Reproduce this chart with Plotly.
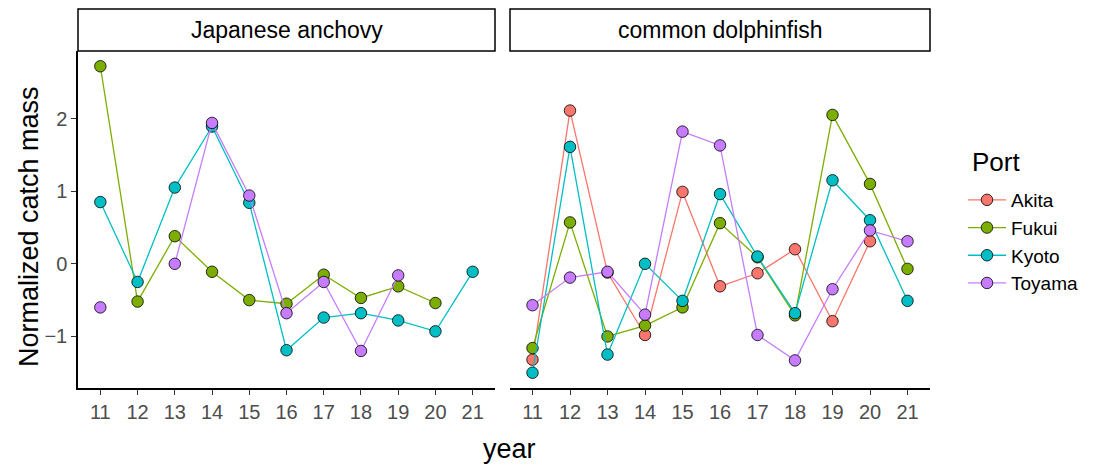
import plotly.graph_objects as go

W, H = 1096, 467

years = [11, 12, 13, 14, 15, 16, 17, 18, 19, 20, 21]
ports = ["Akita", "Fukui", "Kyoto", "Toyama"]
colors = {"Akita": "#F8766D", "Fukui": "#7CAE00", "Kyoto": "#00BFC4", "Toyama": "#C77CFF"}

# Japanese anchovy
anchovy_akita = [None] * 11
anchovy_fukui = [2.72, -0.52, 0.38, -0.11, -0.50, -0.55, -0.15, -0.47, -0.31, -0.54, None]
anchovy_kyoto = [0.85, -0.25, 1.05, 1.89, 0.84, -1.19, -0.74, -0.68, -0.78, -0.93, -0.11]
anchovy_toyama = [-0.60, None, 0.00, 1.94, 0.94, -0.68, -0.25, -1.20, -0.16, None, None]

# common dolphinfish
dolphin_akita = [-1.32, 2.11, -0.12, -0.98, 0.99, -0.31, -0.13, 0.20, -0.79, 0.31, None]
dolphin_fukui = [-1.16, 0.57, -1.00, -0.85, -0.60, 0.56, 0.09, -0.71, 2.05, 1.10, -0.07]
dolphin_kyoto = [-1.50, 1.61, -1.25, 0.00, -0.51, 0.96, 0.10, -0.68, 1.15, 0.60, -0.51]
dolphin_toyama = [-0.57, -0.19, -0.11, -0.70, 1.82, 1.63, -0.98, -1.33, -0.35, 0.46, 0.31]

panels = [
    ("Japanese anchovy", {"Akita": anchovy_akita, "Fukui": anchovy_fukui,
                          "Kyoto": anchovy_kyoto, "Toyama": anchovy_toyama}),
    ("common dolphinfish", {"Akita": dolphin_akita, "Fukui": dolphin_fukui,
                            "Kyoto": dolphin_kyoto, "Toyama": dolphin_toyama}),
]

FONT = "Liberation Sans, Arial, Helvetica, sans-serif"

fig = go.Figure()
for pi, (title, data) in enumerate(panels):
    xa = "x" if pi == 0 else "x2"
    ya = "y" if pi == 0 else "y2"
    for p in ports:
        vals = data[p]
        if all(v is None for v in vals):
            continue
        fig.add_trace(go.Scatter(
            x=years, y=vals, mode="lines+markers", name=p,
            xaxis=xa, yaxis=ya, legendgroup=p,
            showlegend=(pi == 1),
            connectgaps=False,
            line=dict(color=colors[p], width=1.3),
            marker=dict(color=colors[p], size=11.5, line=dict(color="black", width=0.8)),
        ))

def px_x(v):
    return v / W

def px_y(v):
    return 1 - v / H

top, bottom = 51, 388
left_dom = [px_x(78), px_x(495)]
right_dom = [px_x(510), px_x(930)]
ydom = [px_y(bottom), px_y(top)]
yrange = [-1.71, 2.93]
xrange = [10.4, 21.6]

axis_common = dict(range=xrange, tickvals=years, ticktext=[str(y) for y in years],
                   showgrid=False, zeroline=False, showline=True, linecolor="black",
                   linewidth=1.5, ticks="outside", ticklen=5, tickcolor="#333333",
                   tickwidth=1.2, tickfont=dict(size=20, color="#4D4D4D", family=FONT))

fig.update_layout(
    width=W, height=H,
    margin=dict(l=0, r=0, t=0, b=0),
    paper_bgcolor="white", plot_bgcolor="white",
    font=dict(family=FONT),
    xaxis=dict(domain=left_dom, anchor="y", **axis_common),
    xaxis2=dict(domain=right_dom, anchor="y2", **axis_common),
    yaxis=dict(domain=ydom, range=yrange, tickvals=[-1, 0, 1, 2], showgrid=False,
               zeroline=False, showline=True, linecolor="black", linewidth=1.5,
               ticks="outside", ticklen=5, tickcolor="#333333", tickwidth=1.2,
               tickfont=dict(size=20, color="#4D4D4D", family=FONT), anchor="x"),
    yaxis2=dict(domain=ydom, range=yrange, showgrid=False, zeroline=False,
                showline=False, showticklabels=False, ticks="", anchor="x2"),
    legend=dict(
        font=dict(size=19, color="black", family=FONT),
        x=px_x(963), y=px_y(181), xanchor="left", yanchor="top",
        bgcolor="rgba(0,0,0,0)", tracegroupgap=0, itemwidth=38,
    ),
)

shapes = []
annotations = []
for (title, _), dom in zip(panels, [left_dom, right_dom]):
    shapes.append(dict(type="rect", xref="paper", yref="paper",
                       x0=dom[0], x1=dom[1], y0=px_y(51), y1=px_y(9),
                       line=dict(color="black", width=1.5), fillcolor="white"))
    annotations.append(dict(text=title, xref="paper", yref="paper",
                            x=(dom[0] + dom[1]) / 2, y=px_y(30), showarrow=False,
                            xanchor="center", yanchor="middle",
                            font=dict(size=23, color="black", family=FONT)))

annotations.append(dict(text="Port", xref="paper", yref="paper", x=px_x(970), y=px_y(162),
                        showarrow=False, xanchor="left", yanchor="middle",
                        font=dict(size=26, color="black", family=FONT)))
annotations.append(dict(text="year", xref="paper", yref="paper", x=px_x(509), y=px_y(449),
                        showarrow=False, xanchor="center", yanchor="middle",
                        font=dict(size=27, color="black", family=FONT)))
annotations.append(dict(text="Normalized catch mass", xref="paper", yref="paper",
                        x=px_x(29), y=px_y(227), showarrow=False, textangle=-90,
                        xanchor="center", yanchor="middle",
                        font=dict(size=27, color="black", family=FONT)))

fig.update_layout(shapes=shapes, annotations=annotations)
fig.write_html("out.html")
